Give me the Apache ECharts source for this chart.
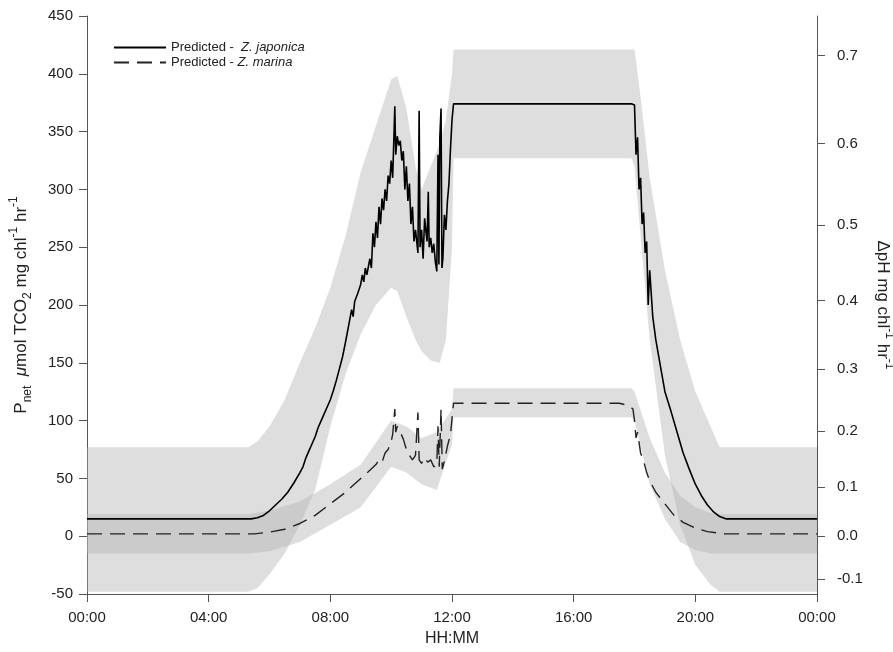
<!DOCTYPE html>
<html><head><meta charset="utf-8">
<script src="https://cdn.jsdelivr.net/npm/echarts@6/dist/echarts.min.js"></script>
<style>html,body{margin:0;padding:0;background:#fff}#c{width:893px;height:652px}</style>
</head><body><div id="c"></div>
<script>
// ---- data (hours since 00:00, left-axis units) ----
const xTicksHours = [0, 4, 8, 12, 16, 20, 24];
const leftTicks = [-50, 0, 50, 100, 150, 200, 250, 300, 350, 400, 450];
const rightTickLabels = [-0.1, 0.0, 0.1, 0.2, 0.3, 0.4, 0.5, 0.6, 0.7];

// Predicted - Z. japonica (solid)
const japT = [0,5.4,5.6,5.8,6.0,6.2,6.4,6.6,6.8,7.0,7.1,7.2,7.3,7.4,7.5,7.6,7.7,7.8,7.9,8.0,8.1,8.2,8.3,8.4,8.5,8.6,8.7,8.75,8.8,8.9,9.0,9.05,9.1,9.15,9.2,9.3,9.35,9.4,9.45,9.5,9.55,9.6,9.65,9.7,9.75,9.8,9.85,9.9,9.95,10.0,10.05,10.12,10.15,10.2,10.25,10.3,10.35,10.4,10.45,10.5,10.55,10.6,10.65,10.7,10.75,10.8,10.88,10.92,10.95,11.0,11.05,11.1,11.15,11.18,11.22,11.25,11.3,11.35,11.4,11.45,11.5,11.54,11.57,11.6,11.64,11.67,11.7,11.75,11.8,11.85,11.9,11.95,12.0,12.05,17.9,18.0,18.05,18.1,18.15,18.2,18.25,18.3,18.35,18.4,18.45,18.5,18.6,18.7,18.8,18.9,19.0,19.2,19.4,19.6,19.8,20.0,20.2,20.4,20.6,20.8,21.0,24];
const japV = [15,15,16,18,22,27,32,38,46,55,60,68,74,80,86,94,100,106,112,118,126,135,145,155,168,182,196,190,203,210,218,226,220,232,226,240,232,262,250,272,258,285,270,292,282,300,290,312,305,325,310,372,330,346,338,342,325,333,300,320,290,305,270,285,255,265,245,368,250,265,240,275,262,255,298,250,258,245,253,238,229,330,235,345,370,232,240,278,265,290,305,335,360,374,374,373,330,345,300,310,270,280,245,255,200,230,190,170,155,140,125,108,90,72,58,45,35,27,21,17,15,15];

// Predicted - Z. marina (dashed)
const marT = [0,5.5,6.0,6.5,7.0,7.5,8.0,8.5,9.0,9.3,9.5,9.6,9.7,9.8,9.9,10.0,10.05,10.12,10.15,10.2,10.3,10.4,10.5,10.6,10.7,10.8,10.88,10.92,11.0,11.1,11.2,11.3,11.4,11.5,11.54,11.58,11.64,11.68,11.75,11.85,11.95,12.05,17.5,17.8,17.95,18.0,18.05,18.1,18.2,18.3,18.4,18.5,18.7,19.0,19.3,19.6,20.0,20.4,20.8,21.0,24];
const marV = [2,2,3.5,6,11,18,28,38,50,57,62,66,64,72,75,82,88,110,90,95,90,84,75,70,66,70,107,66,63,68,64,66,60,62,95,60,110,58,65,78,88,115,115,113,110,100,85,90,72,65,55,48,38,28,18,12,7,4,2.5,2,2];

// Confidence band, Z. japonica
const japBandT = [0,5.3,5.6,6.0,6.5,7.0,7.5,8.0,8.5,9.0,9.5,10.0,10.2,10.5,10.8,11.0,11.3,11.6,11.8,12.0,12.05,17.9,18.0,18.2,18.5,19.0,19.5,20.0,20.5,20.8,24];
const japBandHi = [77,77,82,95,118,150,180,215,260,315,355,395,398,370,320,300,320,340,360,400,421,421,421,380,310,230,170,125,95,77,77];
const japBandLo = [-48,-48,-45,-33,-15,10,40,95,140,175,200,215,212,190,170,160,152,150,170,250,327,327,320,260,170,70,10,-25,-42,-48,-48];

// Confidence band, Z. marina
const marBandT = [0,5.3,6.0,7.0,8.0,9.0,10.0,10.5,11.0,11.5,12.0,12.05,17.9,18.0,18.5,19.0,19.5,20.0,20.5,20.8,24];
const marBandHi = [19,19,22,30,45,62,100,95,85,90,110,128,128,125,85,55,35,25,20,19,19];
const marBandLo = [-15,-15,-13,-5,10,25,60,55,45,40,80,103,103,100,45,15,-5,-12,-15,-15,-15];

// right axis (ΔpH) is non-linear relative to the left axis
function pHToLeft(v) { return 398 * v + 280 * v * v; }

const FONT = 'Liberation Sans, Arial, Helvetica, sans-serif';
const pairs = (t, v) => t.map((x, i) => [x, v[i]]);

function band(name, t, hi, lo, color) {
  return {
    name: name, type: 'custom', silent: true, clip: true, z: 1,
    data: t.map((x, i) => [x, hi[i], lo[i]]),
    encode: { x: 0, y: [1, 2] },
    renderItem: function (params, api) {
      if (params.dataIndex !== 0) return null;
      const pts = [];
      for (let i = 0; i < t.length; i++) pts.push(api.coord([t[i], hi[i]]));
      for (let i = t.length - 1; i >= 0; i--) pts.push(api.coord([t[i], lo[i]]));
      return { type: 'polygon', shape: { points: pts }, style: { fill: color } };
    }
  };
}

const chart = echarts.init(document.getElementById('c'), null, { renderer: 'canvas' });
const rightMap = {};
rightTickLabels.forEach(v => { rightMap[pHToLeft(v).toFixed(3)] = v.toFixed(1); });

const axisCol = '#555';
const txtCol = '#222';

chart.setOption({
  animation: false,
  backgroundColor: '#fff',
  textStyle: { fontFamily: FONT },
  grid: { left: 87, right: 76, top: 16, bottom: 58, containLabel: false, outerBoundsMode: 'none' },
  legend: {
    left: 108, top: 36, orient: 'vertical', itemGap: 2,
    itemWidth: 52, itemHeight: 14,
    itemStyle: { opacity: 0 },
    data: ['Predicted - Z. japonica', 'Predicted - Z. marina'],
    formatter: function (n) {
      return n.indexOf('japonica') >= 0 ? 'Predicted -  {i|Z. japonica}' : 'Predicted - {i|Z. marina}';
    },
    textStyle: { fontFamily: FONT, fontSize: 13, color: txtCol,
      rich: { i: { fontStyle: 'italic', fontFamily: FONT, fontSize: 13, color: txtCol } } }
  },
  xAxis: {
    type: 'value', min: 0, max: 24, interval: 4,
    axisLine: { show: true, onZero: false, lineStyle: { color: axisCol, width: 1 } },
    axisTick: { show: true, inside: false, length: 8, lineStyle: { color: axisCol } },
    splitLine: { show: false },
    axisLabel: { fontSize: 15, color: txtCol, margin: 16, fontFamily: FONT,
      formatter: function (h) { const hh = Math.round(h) % 24; return (hh < 10 ? '0' : '') + hh + ':00'; } },
    name: 'HH:MM', nameLocation: 'middle', nameGap: 37,
    nameTextStyle: { fontSize: 16, color: txtCol, fontFamily: FONT }
  },
  yAxis: [{
    type: 'value', min: -50, max: 450, interval: 50, position: 'left',
    axisLine: { show: true, onZero: false, lineStyle: { color: axisCol, width: 1 } },
    axisTick: { show: true, inside: false, length: 8, lineStyle: { color: axisCol } },
    splitLine: { show: false },
    axisLabel: { fontSize: 15, color: txtCol, margin: 14, fontFamily: FONT },
    name: '{a|P}{sub|net}{a|  }{i|μ}{a|mol TCO}{sub|2}{a| mg chl}{sup|-1}{a| hr}{sup|-1}',
    nameLocation: 'middle', nameGap: 53, nameRotate: 90,
    nameTextStyle: { color: txtCol, fontFamily: FONT, rich: {
      a: { fontSize: 17, color: txtCol, fontFamily: FONT, lineHeight: 26, verticalAlign: 'middle' },
      i: { fontSize: 17, color: txtCol, fontFamily: FONT, fontStyle: 'italic', lineHeight: 26, verticalAlign: 'middle' },
      sub: { fontSize: 12, color: txtCol, fontFamily: FONT, verticalAlign: 'bottom', lineHeight: 26 },
      sup: { fontSize: 12, color: txtCol, fontFamily: FONT, verticalAlign: 'top', lineHeight: 26 }
    } }
  }, {
    type: 'value', min: -50, max: 450, position: 'right',
    axisLine: { show: true, onZero: false, lineStyle: { color: axisCol, width: 1 } },
    axisTick: { show: true, inside: false, length: 8, lineStyle: { color: axisCol },
      customValues: rightTickLabels.map(pHToLeft) },
    splitLine: { show: false },
    axisLabel: { fontSize: 15, color: txtCol, margin: 20, fontFamily: FONT,
      customValues: rightTickLabels.map(pHToLeft),
      formatter: function (v) { return rightMap[Number(v).toFixed(3)] || ''; } },
    name: '{a|ΔpH mg chl}{sup|-1}{a| hr}{sup|-1}',
    nameLocation: 'middle', nameGap: 50, nameRotate: -90,
    nameTextStyle: { color: txtCol, fontFamily: FONT, rich: {
      a: { fontSize: 17, color: txtCol, fontFamily: FONT, lineHeight: 26, verticalAlign: 'middle' },
      sup: { fontSize: 12, color: txtCol, fontFamily: FONT, verticalAlign: 'top', lineHeight: 26 }
    } }
  }],
  series: [
    band('japBand', japBandT, japBandHi, japBandLo, 'rgba(177,177,177,0.42)'),
    band('marBand', marBandT, marBandHi, marBandLo, 'rgba(177,177,177,0.42)'),
    {
      name: 'Predicted - Z. japonica', type: 'line', z: 3,
      data: pairs(japT, japV), showSymbol: false, symbol: 'none',
      lineStyle: { color: '#000', width: 1.6 }, itemStyle: { color: '#000' }
    },
    {
      name: 'Predicted - Z. marina', type: 'line', z: 3,
      data: pairs(marT, marV), showSymbol: false, symbol: 'none',
      lineStyle: { color: '#222', width: 1.4, type: [15, 8] }, itemStyle: { color: '#222' }
    }
  ]
});
</script></body></html>
